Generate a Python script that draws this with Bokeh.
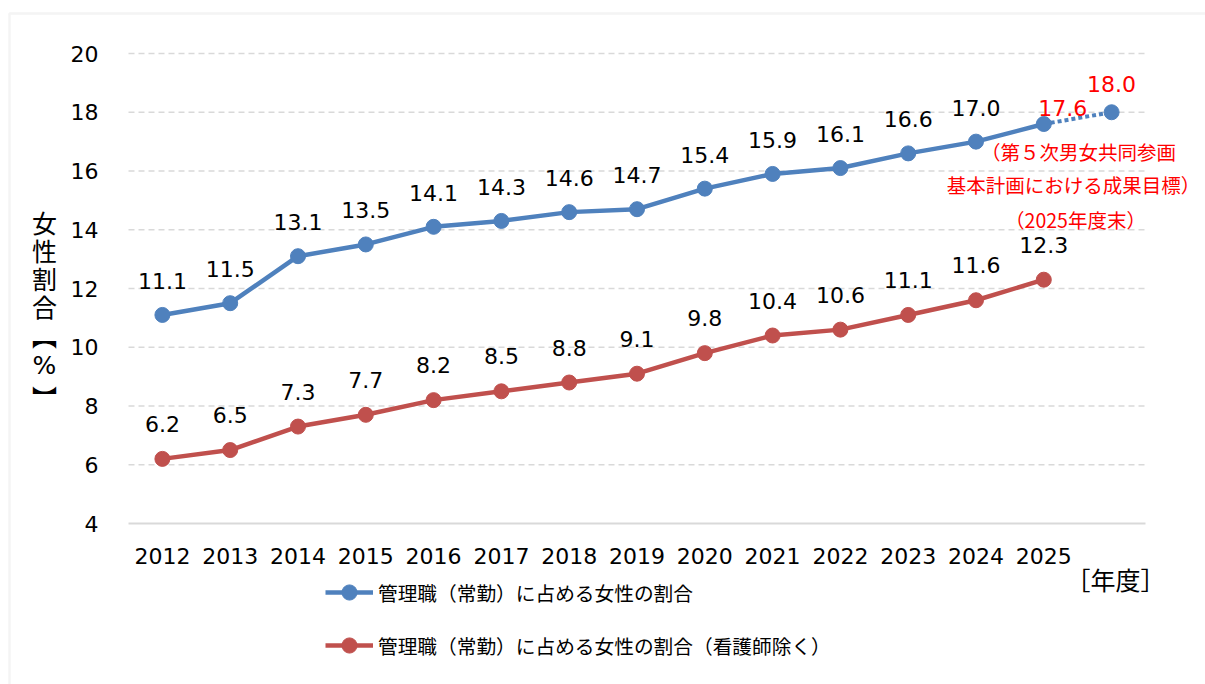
from bokeh.plotting import figure
from bokeh.models import (Range1d, FixedTicker, ColumnDataSource, LabelSet, Label,
                          Legend, LegendItem, BoxAnnotation)
from bokeh.core.properties import value
from bokeh.embed import file_html
from bokeh.resources import INLINE

# ---- data ----
years = ["2012", "2013", "2014", "2015", "2016", "2017", "2018",
         "2019", "2020", "2021", "2022", "2023", "2024", "2025"]
mgr_all = [11.1, 11.5, 13.1, 13.5, 14.1, 14.3, 14.6, 14.7, 15.4, 15.9, 16.1, 16.6, 17.0, 17.6]
mgr_excl_nurse = [6.2, 6.5, 7.3, 7.7, 8.2, 8.5, 8.8, 9.1, 9.8, 10.4, 10.6, 11.1, 11.6, 12.3]
target_value = 18.0
series_names = ["管理職（常勤）に占める女性の割合",
                "管理職（常勤）に占める女性の割合（看護師除く）"]
target_note = ["（第５次男女共同参画", "基本計画における成果目標）", "（2025年度末）"]
x_unit = "［年度］"
# vertical presentation forms for 【 and 】
y_title_chars = ["女", "性", "割", "合", "\ufe3b", "%", "\ufe3c"]
y_ticks = [4, 6, 8, 10, 12, 14, 16, 18, 20]

BLUE = "#4f81bd"
RED = "#c0504d"
GRID = "#d9d9d9"
NUM_FONT = "DejaVu Sans"
JP_FONT = "Noto Sans CJK JP"

W, H = 1205, 684
PA_LEFT, PA_TOP, PA_BOTTOM = 128, 53, 523      # plot area in pixels
n_slots = len(years) + 1                        # 2012..2025 + target slot
UX = 1017 / n_slots                             # px per category
UY = (PA_BOTTOM - PA_TOP) / (y_ticks[-1] - y_ticks[0])

x_lo = -0.5
x_hi = len(years) + 0.5
xr = Range1d(x_lo - PA_LEFT / UX, x_lo + (W - PA_LEFT) / UX)
yr = Range1d(y_ticks[0] - (H - PA_BOTTOM) / UY, y_ticks[-1] + PA_TOP / UY)


def dx(px):
    return x_lo + (px - PA_LEFT) / UX


def dy(py):
    return y_ticks[-1] - (py - PA_TOP) / UY


xs = list(range(len(years)))
x_target = len(years)

p = figure(width=W, height=H, output_backend="svg", toolbar_location=None,
           x_range=xr, y_range=yr, title=None,
           min_border_left=0, min_border_right=0, min_border_top=0,
           min_border_bottom=0)
p.outline_line_color = None
p.background_fill_color = "white"
p.border_fill_color = "white"
p.xgrid.visible = False
p.ygrid.visible = False

# axes (fixed inside the frame)
p.xaxis.fixed_location = y_ticks[0]
p.xaxis.ticker = FixedTicker(ticks=xs)
p.xaxis.major_label_overrides = {i: y for i, y in enumerate(years)}
p.xaxis.major_tick_line_color = None
p.xaxis.minor_tick_line_color = None
p.xaxis.axis_line_color = None
p.xaxis.major_label_text_font = NUM_FONT
p.xaxis.major_label_text_font_size = "22px"
p.xaxis.major_label_text_color = "#000000"
p.xaxis.major_label_standoff = 18

p.yaxis.fixed_location = x_lo
p.yaxis.ticker = FixedTicker(ticks=y_ticks)
p.yaxis.major_tick_line_color = None
p.yaxis.minor_tick_line_color = None
p.yaxis.axis_line_color = None
p.yaxis.major_label_text_font = NUM_FONT
p.yaxis.major_label_text_font_size = "22px"
p.yaxis.major_label_text_color = "#000000"
p.yaxis.major_label_standoff = 24

# gridlines across plot area
gy = y_ticks[1:]
p.segment(x0=[x_lo] * len(gy), x1=[x_hi] * len(gy), y0=gy, y1=gy,
          line_color=GRID, line_width=1.5, line_dash="6 4")
p.segment(x0=[x_lo], x1=[x_hi], y0=[y_ticks[0]], y1=[y_ticks[0]],
          line_color=GRID, line_width=2)

# outer border (top and left edges)
p.add_layout(BoxAnnotation(left=dx(9), top=dy(13), right=dx(W + 20), bottom=dy(H + 20),
                           fill_alpha=0, line_color=GRID, line_width=2.5))

# series
src_b = ColumnDataSource(dict(x=xs, y=mgr_all))
src_r = ColumnDataSource(dict(x=xs, y=mgr_excl_nurse,
                              t=[f"{v:.1f}" for v in mgr_excl_nurse]))

p.line([xs[-1], x_target], [mgr_all[-1], target_value], line_color=BLUE,
       line_width=4, line_dash="4 3")
p.scatter([x_target], [target_value], size=15, color=BLUE)

lb = p.line("x", "y", source=src_b, line_color=BLUE, line_width=4.5)
sb = p.scatter("x", "y", source=src_b, size=15, color=BLUE)
lr = p.line("x", "y", source=src_r, line_color=RED, line_width=4.5)
sr = p.scatter("x", "y", source=src_r, size=15, color=RED)

# data labels
lab_b = ColumnDataSource(dict(x=xs[:-1], y=mgr_all[:-1],
                              t=[f"{v:.1f}" for v in mgr_all[:-1]]))
p.add_layout(LabelSet(x="x", y="y", text="t", source=lab_b, y_offset=26,
                      text_align="center", text_baseline="alphabetic",
                      text_font=value(NUM_FONT), text_font_size="22px",
                      text_color="#000000"))
p.add_layout(LabelSet(x="x", y="y", text="t", source=src_r, y_offset=27,
                      text_align="center", text_baseline="alphabetic",
                      text_font=value(NUM_FONT), text_font_size="22px",
                      text_color="#000000"))
p.add_layout(Label(x=xs[-1], y=mgr_all[-1], text=f"{mgr_all[-1]:.1f}",
                   x_offset=19, y_offset=16, text_align="center",
                   text_baseline="alphabetic", text_font=NUM_FONT,
                   text_font_size="22px", text_color="#ff0000"))
p.add_layout(Label(x=x_target, y=target_value, text=f"{target_value:.1f}",
                   y_offset=28, text_align="center",
                   text_baseline="alphabetic", text_font=NUM_FONT,
                   text_font_size="22px", text_color="#ff0000"))

# target note
note_pos = [(1078, 151), (1073, 184), (1075, 219)]
for txt, (px, py) in zip(target_note, note_pos):
    p.add_layout(Label(x=dx(px), y=dy(py), text=txt, text_align="center",
                       text_baseline="middle", text_font=JP_FONT,
                       text_font_size="19.5px", text_color="#ff0000"))

# x unit
p.add_layout(Label(x=dx(1115), y=dy(578), text=x_unit, text_align="center",
                   text_baseline="middle", text_font=JP_FONT,
                   text_font_size="25px", text_color="#000000"))

# y-axis title stacked vertically
ychar_py = [221, 249, 277, 305, 334, 365, 396]
for ch, py in zip(y_title_chars, ychar_py):
    fnt = NUM_FONT if ch == "%" else JP_FONT
    p.add_layout(Label(x=dx(44), y=dy(py), text=ch, text_align="center",
                       text_baseline="middle", text_font=fnt,
                       text_font_size="25px", text_color="#000000"))

# legend
legend = Legend(items=[LegendItem(label=series_names[0], renderers=[lb, sb]),
                       LegendItem(label=series_names[1], renderers=[lr, sr])],
                location=(325, H - 664), orientation="vertical",
                padding=0, margin=0, spacing=15, glyph_height=38, label_height=38,
                glyph_width=48, label_standoff=5,
                label_text_font=JP_FONT, label_text_font_size="19.7px",
                label_text_color="#000000", label_text_baseline="middle",
                background_fill_alpha=0, border_line_color=None)
p.add_layout(legend, "center")

open("out.html", "w").write(file_html(p, INLINE))
